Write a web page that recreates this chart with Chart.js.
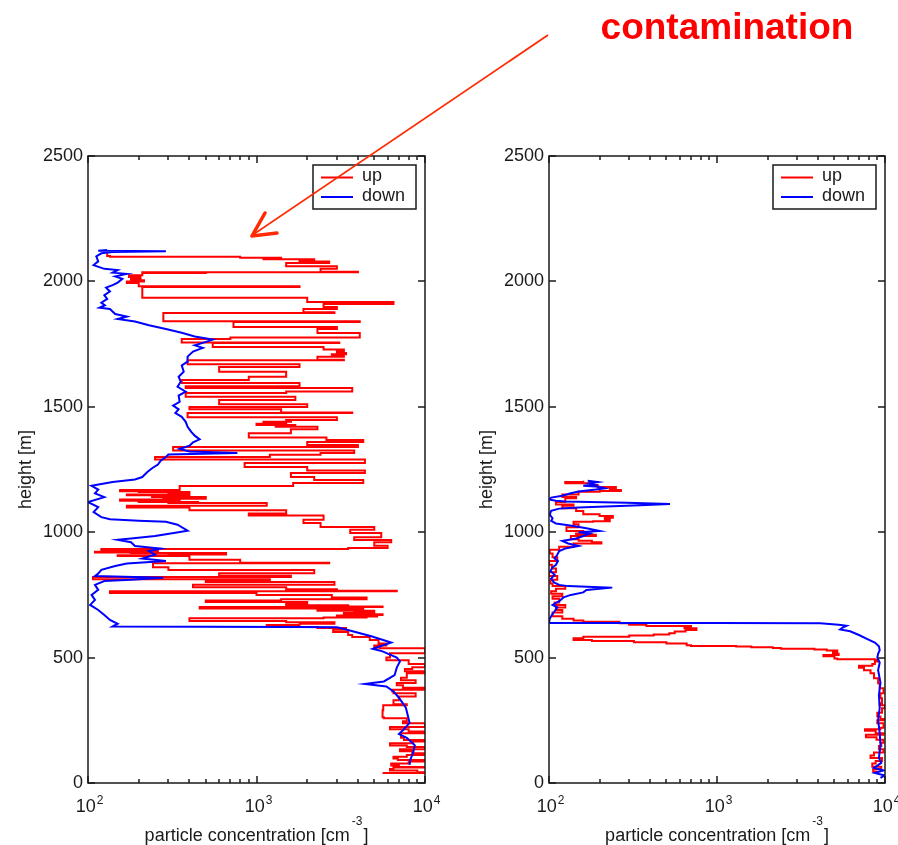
<!DOCTYPE html>
<html>
<head>
<meta charset="utf-8">
<script src="https://cdn.jsdelivr.net/npm/chart.js@4.4.1/dist/chart.umd.min.js"></script>
<style>
  body { margin: 0; background: #fff; width: 898px; height: 845px; overflow: hidden; position: relative; }
  canvas { position: absolute; top: 0; }
  #leftChart { left: 0; }
  #rightChart { left: 449px; }
  svg { position: absolute; left: 0; top: 0; pointer-events: none; }
</style>
</head>
<body>
<canvas id="leftChart" width="449" height="845"></canvas>
<canvas id="rightChart" width="449" height="845"></canvas>
<svg width="898" height="845">
  <text x="727" y="39" text-anchor="middle" font-family="Liberation Sans, Arial, sans-serif" font-weight="bold" font-size="37" fill="#ff0000">contamination</text>
  <line x1="548" y1="35" x2="254" y2="234" stroke="#ff2a00" stroke-width="1.8"/>
  <polyline points="265,213 252,236 277,233" fill="none" stroke="#ff2a00" stroke-width="3.5" stroke-linecap="round" stroke-linejoin="round"/>
</svg>
<script>
// profiles as [concentration cm^-3, height m]
var upLeft = [
  [5600,40],[10000,43],[9000,50],[6200,56],[6500,62],[10000,64],[7000,70],[6300,78],[8000,86],[10000,92],
  [6900,98],[6500,105],[7800,112],[10000,119],[8400,127],[7100,135],[10000,144],[7800,150],[6200,158],[8500,165],
  [10000,171],[7500,180],[7200,198],[10000,205],[8000,214],[6200,223],[10000,238],[7400,246],[7800,258],[5700,262],
  [5600,290],[5650,310],[7800,314],[6500,330],[7000,345],[8800,358],[6500,365],[6400,372],[10000,380],[7400,390],
  [6800,399],[8800,410],[7200,420],[7800,438],[10000,446],[7600,455],[8400,462],[10000,474],[8000,489],[5900,500],
  [6200,517],[10000,537],[5400,540],[5000,548],[5900,556],[5300,570],[4700,582],[3700,590],[3500,602],[2850,611],
  [3400,618],[2300,622],[1300,626],[1150,630],[1800,635],[2900,641],[1500,646],[400,657],[2500,660],[4500,662],
  [3200,664],[5200,666],[3000,668],[4800,670],[5600,673],[3300,675],[4600,677],[3300,678],[5000,681],[3800,684],
  [5000,687],[2300,690],[4300,696],[460,702],[5600,704],[3500,709],[1500,715],[2000,722],[500,728],[1400,733],
  [4500,740],[2800,750],[1000,758],[135,765],[6800,767],[3000,773],[1500,781],[420,790],[2900,801],[500,806],
  [1200,812],[107,821],[1600,826],[600,836],[2200,849],[300,860],[243,876],[2700,878],[800,890],[400,905],
  [150,908],[300,911],[660,917],[180,919],[110,922],[260,925],[140,928],[250,930],[120,933],[3500,937],
  [6000,946],[5000,960],[6300,969],[3800,980],[5500,997],[3600,1010],[5000,1021],[2400,1037],[1900,1050],[2500,1067],
  [900,1075],[1500,1088],[400,1098],[170,1105],[1150,1116],[300,1118],[450,1120],[200,1122],[350,1125],[155,1130],
  [280,1133],[500,1140],[240,1144],[400,1147],[170,1150],[300,1155],[400,1160],[200,1163],[155,1168],[350,1184],
  [1650,1196],[4300,1208],[2200,1220],[1600,1236],[4400,1246],[2000,1260],[850,1276],[4400,1290],[250,1300],[1200,1309],
  [2400,1316],[3800,1326],[320,1340],[4000,1348],[2000,1360],[4300,1368],[2600,1378],[900,1395],[1600,1410],[2300,1420],
  [1300,1424],[1700,1427],[1000,1432],[1500,1436],[1100,1440],[1600,1444],[1500,1447],[3000,1458],[390,1475],[3700,1477],
  [1400,1490],[400,1499],[2000,1510],[600,1527],[1700,1540],[380,1555],[1500,1561],[3700,1575],[380,1582],[1800,1595],
  [360,1607],[900,1620],[1500,1640],[600,1659],[1800,1670],[390,1686],[3300,1688],[2300,1700],[3300,1705],[2800,1710],
  [3400,1715],[3000,1720],[3300,1728],[2500,1738],[550,1754],[3100,1756],[360,1770],[700,1776],[4100,1794],[2300,1810],
  [3000,1818],[730,1838],[4100,1841],[280,1874],[2900,1877],[1900,1890],[3000,1898],[2500,1910],[6500,1918],[2000,1935],
  [210,1978],[1800,1981],[200,1994],[170,2000],[215,2005],[180,2010],[205,2018],[175,2025],[210,2033],[500,2034],
  [210,2036],[4000,2038],[2400,2050],[3000,2060],[1500,2073],[2700,2079],[1800,2084],[2200,2088],[1100,2090],[1400,2094],
  [800,2098],[135,2101],[130,2112]
];

var downLeft = [
  [130,2125],[115,2122],[290,2120],[140,2117],[120,2112],[112,2100],[115,2080],[108,2065],[125,2050],[150,2045],
  [140,2035],[170,2030],[145,2020],[160,2010],[150,1995],[140,1985],[128,1975],[135,1960],[125,1945],[130,1930],
  [120,1915],[126,1905],[117,1895],[135,1890],[145,1870],[170,1860],[150,1850],[190,1840],[230,1825],[290,1810],
  [360,1795],[430,1780],[550,1768],[480,1755],[430,1745],[480,1735],[420,1720],[390,1700],[390,1680],[360,1665],
  [370,1640],[345,1620],[355,1600],[340,1580],[380,1560],[345,1545],[350,1520],[320,1505],[345,1490],[330,1475],
  [360,1460],[380,1440],[390,1420],[410,1400],[430,1385],[460,1370],[420,1358],[400,1345],[350,1332],[400,1322],
  [770,1316],[300,1310],[290,1300],[270,1285],[260,1270],[240,1255],[225,1240],[210,1220],[190,1210],[140,1200],
  [120,1192],[105,1185],[115,1170],[110,1155],[125,1140],[100,1120],[115,1100],[108,1080],[120,1060],[135,1052],
  [200,1046],[290,1042],[340,1030],[390,1006],[330,998],[250,985],[180,975],[150,970],[180,960],[190,945],
  [270,935],[230,925],[250,910],[210,895],[290,885],[170,875],[145,865],[120,850],[115,835],[110,825],
  [280,818],[180,810],[125,805],[110,790],[115,770],[105,750],[110,730],[103,710],[115,690],[125,670],
  [135,650],[150,635],[140,624],[1700,622],[3000,621],[3400,612],[4800,585],[6300,560],[4900,535],[5600,525],
  [6800,500],[7100,485],[6800,460],[6600,430],[5700,405],[4400,395],[5900,385],[6500,365],[7000,340],[7700,300],
  [7900,270],[8100,240],[7400,210],[7000,195],[7800,180],[8700,150],[8500,120],[8200,95],[8100,72]
];

var upRight = [
  [9000,45],[8500,55],[9500,65],[8400,78],[8800,88],[9600,100],[8200,110],[8600,122],[9800,135],[9200,148],
  [9500,160],[9800,172],[8900,182],[7700,192],[9800,198],[8800,208],[7600,214],[9400,220],[9800,238],[9000,250],
  [10000,255],[9400,265],[9000,280],[9600,298],[10000,310],[9300,318],[9600,338],[9400,358],[9800,378],[9300,398],
  [9100,418],[8600,438],[8200,450],[7500,460],[7000,468],[8400,474],[8700,484],[9100,490],[8700,493],[5200,496],
  [5000,505],[4300,510],[5300,515],[4900,522],[5200,528],[4500,532],[3800,535],[2400,538],[2150,541],[1600,544],
  [1300,546],[700,549],[660,556],[500,561],[320,566],[180,570],[140,577],[160,583],[300,588],[420,592],
  [520,597],[560,604],[650,610],[754,617],[640,622],[700,626],[380,631],[300,637],[263,643],[160,648],
  [140,655],[120,665],[105,680],[120,690],[110,700],[125,710],[108,720],[115,735],[105,745],[120,755],
  [103,765],[110,775],[125,785],[105,795],[102,810],[112,825],[100,840],[110,855],[104,870],[100,885],
  [112,900],[105,915],[101,930],[115,942],[140,955],[205,960],[180,966],[150,972],[135,985],[190,990],
  [145,995],[160,1005],[127,1020],[150,1032],[140,1042],[183,1044],[230,1050],[215,1058],[240,1065],[200,1072],
  [160,1085],[145,1095],[120,1105],[140,1110],[110,1120],[125,1135],[145,1140],[120,1150],[150,1161],[200,1164],
  [268,1168],[230,1172],[250,1180],[195,1188],[175,1195],[125,1200],[160,1205]
];

var downRight = [
  [170,1205],[195,1200],[175,1195],[185,1190],[160,1185],[200,1181],[215,1175],[190,1170],[150,1162],[135,1155],
  [120,1145],[103,1138],[100,1130],[110,1125],[125,1122],[290,1117],[525,1112],[380,1108],[290,1105],[180,1100],
  [150,1098],[115,1094],[103,1085],[101,1070],[105,1055],[103,1045],[110,1035],[140,1025],[170,1015],[200,1005],
  [150,1000],[175,995],[160,985],[145,975],[120,965],[130,955],[150,945],[125,935],[115,925],[112,910],
  [108,895],[113,885],[110,870],[105,860],[102,845],[108,830],[103,815],[107,800],[115,790],[130,785],
  [238,779],[200,775],[167,770],[160,760],[135,750],[122,740],[115,725],[105,710],[112,700],[108,685],
  [104,670],[101,655],[100,645],[100,638],[1000,638],[4110,637],[5300,631],[5900,627],[5600,620],[5400,612],
  [6200,605],[7000,590],[7800,575],[8700,560],[9200,545],[9300,530],[9100,515],[9000,500],[9300,480],[9100,450],
  [9400,400],[9200,350],[9300,300],[9100,250],[9300,200],[9400,150],[9200,100],[9500,80],[8600,60],[9800,50],
  [8700,40],[10000,30],[9400,20]
];

var yTicks = [0, 500, 1000, 1500, 2000, 2500];
var xMajor = [100, 1000, 10000];
var xMinor = [200, 300, 400, 500, 600, 700, 800, 900, 2000, 3000, 4000, 5000, 6000, 7000, 8000, 9000];
var seriesNames = ["up", "down"];

var INK = "#1a1a1a";
var FONT = "\"Liberation Sans\", Arial, Helvetica, sans-serif";

function toXY(profile) {
  return profile.map(function(p) { return { x: p[0], y: p[1] }; });
}

function seg(ctx, x1, y1, x2, y2) {
  ctx.beginPath();
  ctx.moveTo(x1, y1);
  ctx.lineTo(x2, y2);
  ctx.stroke();
}

// matlab-style box, inward ticks, labels and legend
var matlabAxes = {
  id: "matlabAxes",
  afterDraw: function(chart) {
    var ctx = chart.ctx, a = chart.chartArea;
    var xs = chart.scales.x, ys = chart.scales.y;
    ctx.save();
    ctx.strokeStyle = INK;
    ctx.fillStyle = INK;
    ctx.lineWidth = 1.5;
    ctx.strokeRect(a.left, a.top, a.right - a.left, a.bottom - a.top);

    ctx.font = "18px " + FONT;
    ctx.textAlign = "right";
    ctx.textBaseline = "middle";
    yTicks.forEach(function(v) {
      var p = Math.round(ys.getPixelForValue(v));
      seg(ctx, a.left, p, a.left + 7, p);
      seg(ctx, a.right, p, a.right - 7, p);
      ctx.fillText(String(v), a.left - 5, p);
    });

    xMinor.forEach(function(v) {
      var p = Math.round(xs.getPixelForValue(v));
      seg(ctx, p, a.bottom, p, a.bottom - 4);
      seg(ctx, p, a.top, p, a.top + 4);
    });

    ctx.textAlign = "left";
    ctx.textBaseline = "alphabetic";
    xMajor.forEach(function(v) {
      var p = Math.round(xs.getPixelForValue(v));
      seg(ctx, p, a.bottom, p, a.bottom - 7);
      seg(ctx, p, a.top, p, a.top + 7);
      var ex = String(Math.round(Math.log10(v)));
      ctx.font = "18px " + FONT;
      var w1 = ctx.measureText("10").width;
      ctx.font = "12px " + FONT;
      var w2 = ctx.measureText(ex).width;
      var x0 = p - (w1 + w2) / 2 + 1;
      ctx.font = "18px " + FONT;
      ctx.fillText("10", x0, a.bottom + 29);
      ctx.font = "12px " + FONT;
      ctx.fillText(ex, x0 + w1 + 1, a.bottom + 21);
    });

    // x title with superscript
    var t1 = "particle concentration [cm", t2 = "-3", t3 = "]";
    ctx.font = "18px " + FONT;
    var a1 = ctx.measureText(t1).width, a3 = ctx.measureText(t3).width;
    ctx.font = "12px " + FONT;
    var a2 = ctx.measureText(t2).width;
    var cx = (a.left + a.right) / 2;
    var sx = cx - (a1 + a2 + a3 + 3) / 2;
    ctx.font = "18px " + FONT;
    ctx.fillText(t1, sx, a.bottom + 58);
    ctx.fillText(t3, sx + a1 + 3 + a2, a.bottom + 58);
    ctx.font = "12px " + FONT;
    ctx.fillText(t2, sx + a1 + 2, a.bottom + 42);

    // y title
    ctx.save();
    ctx.translate(a.left - 57, (a.top + a.bottom) / 2);
    ctx.rotate(-Math.PI / 2);
    ctx.font = "18px " + FONT;
    ctx.textAlign = "center";
    ctx.fillText("height [m]", 0, 0);
    ctx.restore();

    // legend
    var lr = a.right - 9, ll = lr - 103, lt = a.top + 9, lb = lt + 44;
    ctx.fillStyle = "#fff";
    ctx.fillRect(ll, lt, lr - ll, lb - lt);
    ctx.strokeRect(ll, lt, lr - ll, lb - lt);
    ctx.font = "18px " + FONT;
    ctx.textBaseline = "middle";
    ctx.textAlign = "left";
    var rows = [lt + 12.5, lt + 32];
    chart.data.datasets.forEach(function(ds) {
      var i = seriesNames.indexOf(ds.label);
      ctx.strokeStyle = ds.borderColor;
      ctx.lineWidth = 2;
      seg(ctx, ll + 8, rows[i], ll + 40, rows[i]);
      ctx.fillStyle = INK;
      ctx.fillText(ds.label, ll + 49, rows[i] - 1);
    });
    ctx.restore();
  }
};

function makeProfileChart(id, up, down, padLeft, padRight) {
  var el = document.getElementById(id);
  var common = { showLine: true, pointRadius: 0, borderWidth: 2, fill: false };
  return new Chart(el.getContext("2d"), {
    type: "scatter",
    data: {
      datasets: [
        Object.assign({ label: "up", data: toXY(up), borderColor: "#ff0000", stepped: "before", order: 1 }, common),
        Object.assign({ label: "down", data: toXY(down), borderColor: "#0000ff", stepped: false, order: 0 }, common)
      ]
    },
    options: {
      responsive: false,
      animation: false,
      events: [],
      layout: { padding: { left: padLeft, right: padRight, top: 156, bottom: 62 } },
      scales: {
        x: { type: "logarithmic", min: 100, max: 10000, display: false },
        y: { type: "linear", min: 0, max: 2500, display: false }
      },
      plugins: { legend: { display: false }, tooltip: { enabled: false } }
    },
    plugins: [matlabAxes]
  });
}

makeProfileChart("leftChart", upLeft, downLeft, 88, 24);
makeProfileChart("rightChart", upRight, downRight, 100, 13);
</script>
</body>
</html>
